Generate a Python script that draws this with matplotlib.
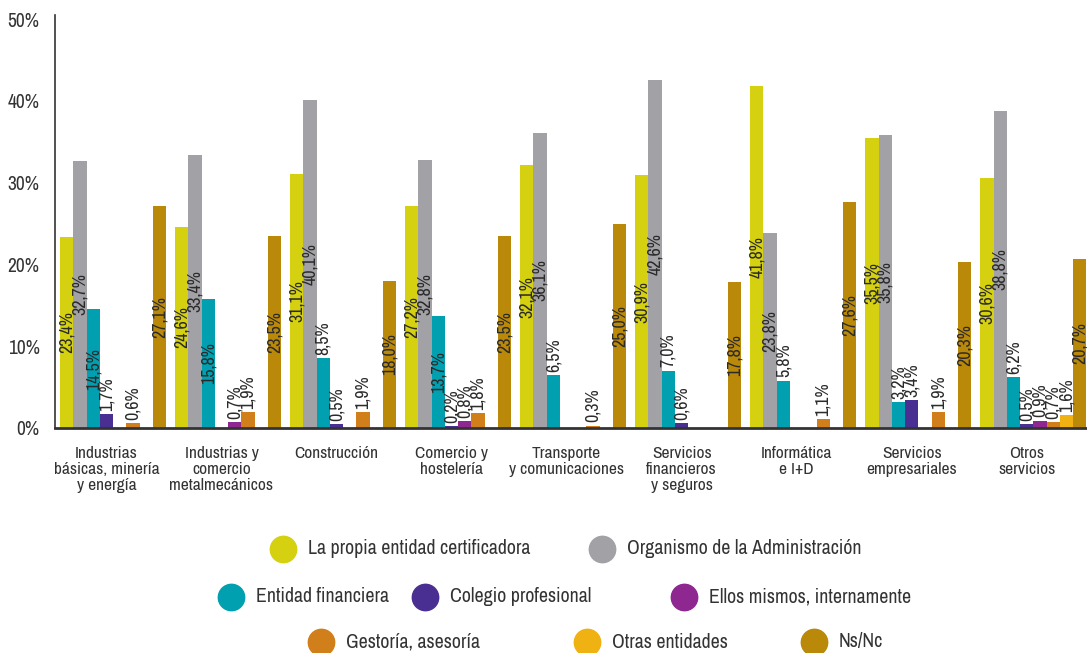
#!/usr/bin/env python3

import matplotlib
matplotlib.use('Agg')
import matplotlib.pyplot as plt
import numpy as np

# ------------------------------------------
# Data
# ------------------------------------------
categories = ['Industrias\nbásicas, minería\ny energía',
              'Industrias y\ncomercio\nmetalmecánicos',
              'Construcción',
              'Comercio y\nhostelería',
              'Transporte\ny comunicaciones',
              'Servicios\nfinancieros\ny seguros',
              'Informática\ne I+D',
              'Servicios\nempresariales',
              'Otros\nservicios']

series_names = ['La propia entidad certificadora', 'Organismo de la Administración',
                'Entidad financiera', 'Colegio profesional', 'Ellos mismos, internamente',
                'Gestoría, asesoría', 'Otras entidades', 'Ns/Nc']

propia = [23.4, 24.6, 31.1, 27.2, 32.1, 30.9, 41.8, 35.5, 30.6]
organismo = [32.7, 33.4, 40.1, 32.8, 36.1, 42.6, 23.8, 35.8, 38.8]
financiera = [14.5, 15.8, 8.5, 13.7, 6.5, 7.0, 5.8, 3.2, 6.2]
colegio = [1.7, 0, 0.5, 0.2, 0, 0.6, 0, 3.4, 0.5]
ellos = [0, 0.7, 0, 0.8, 0, 0, 0, 0, 0.9]
gestoria = [0.6, 1.9, 1.9, 1.8, 0.3, 0, 1.1, 1.9, 0.7]
otras = [0, 0, 0, 0, 0, 0, 0, 0, 1.6]
nsnc = [27.1, 23.5, 18.0, 23.5, 25.0, 17.8, 27.6, 20.3, 20.7]

series = [propia, organismo, financiera, colegio, ellos, gestoria, otras, nsnc]
colors = ['#d5d111', '#a2a2a6', '#00a0b1', '#4a2f92', '#8e2790',
          '#d07f1a', '#f0b112', '#ba890a']

yticks = [0, 10, 20, 30, 40, 50]


def main():
    plt.rcParams['font.family'] = ['Archivo Narrow', 'Liberation Sans', 'DejaVu Sans']
    text_color = '#333333'

    fig = plt.figure(figsize=(10.87, 6.53), dpi=100)
    ax = fig.add_axes([0.0506, 0.3446, 0.9494, 0.6325])

    group_step = 8.68
    x0 = np.arange(len(categories)) * group_step

    # Bars and their labels
    for i, (vals, col) in enumerate(zip(series, colors)):
        xs = x0 + i
        ax.bar(xs, vals, width=1.0, align='edge', color=col, linewidth=0)
        for x, v in zip(xs, vals):
            if v <= 0:
                continue
            lab = ('%.1f%%' % v).replace('.', ',')
            if v >= 10:
                ax.text(x + 0.5, v / 2, lab, rotation=90, ha='center', va='center',
                        fontsize=13, color='#2a2a2a')
            else:
                ax.text(x + 0.5, v + 0.4, lab, rotation=90, ha='center', va='bottom',
                        fontsize=13, color='#2a2a2a')

    ax.set_xlim(-0.38, 8 * group_step + 8.05)
    ax.set_ylim(0, 50.5)

    ax.set_yticks(yticks)
    ax.set_yticklabels(['%d%%' % t for t in yticks], fontsize=14, color=text_color)
    ax.set_xticks(x0 + 3.5)
    ax.set_xticklabels(categories, fontsize=12.5, color=text_color, linespacing=1.1)
    ax.tick_params(axis='both', length=0)
    ax.tick_params(axis='x', pad=13)
    ax.tick_params(axis='y', pad=11)

    for side in ['top', 'right']:
        ax.spines[side].set_visible(False)
    ax.spines['left'].set_color('#333333')
    ax.spines['left'].set_linewidth(1.2)
    ax.spines['bottom'].set_color('#333333')
    ax.spines['bottom'].set_linewidth(2.0)

    # Legend drawn by hand in three centered rows
    leg_pos = [(283, 549), (602, 549),
               (231, 597), (425, 597), (684, 597),
               (321, 642), (587, 642), (814, 642)]
    W, H = 1087.0, 653.0
    for (px, py), name, col in zip(leg_pos, series_names, colors):
        fig.lines.append(plt.Line2D([px / W], [1 - py / H], transform=fig.transFigure,
                                    marker='o', markersize=19, color=col, linestyle='none'))
        fig.text((px + 25) / W, 1 - py / H, name, fontsize=14.3, color=text_color,
                 ha='left', va='center')

    fig.savefig('out.png', dpi=100)


if __name__ == "__main__":
    main()
